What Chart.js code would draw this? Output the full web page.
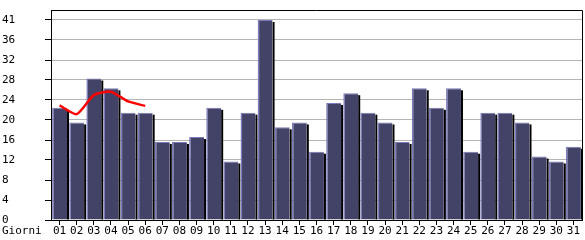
<!DOCTYPE html>
<html>
<head>
<meta charset="utf-8">
<script src="https://cdn.jsdelivr.net/npm/chart.js@4/dist/chart.umd.min.js"></script>
<style>
  body { margin: 0; background: #fff; }
  #wrap { width: 585px; height: 240px; }
</style>
</head>
<body>
<div id="wrap"><canvas id="myChart"></canvas></div>
<script>
var days = ['01','02','03','04','05','06','07','08','09','10','11','12','13','14','15','16','17','18','19','20','21','22','23','24','25','26','27','28','29','30','31'];
var visits = [23,20,29,27,22,22,16,16,17,23,12,22,41,19,20,14,24,26,22,20,16,27,23,27,14,22,22,20,13,12,15];
var trend = [23.5,21.7,25.6,26.3,24.3,23.4];
var yTickValues = [0,4.1,8.2,12.3,16.4,20.5,24.6,28.7,32.8,36.9,41];
var yTickLabels = ['0','4','8','12','16','20','24','28','32','36','41'];
var yMax = 43.05;

var fontSpec = { family: 'DejaVu Sans Mono', size: 11 };

// black shadow on the right of each bar + frame + "Giorni" label
var decor = {
    id: 'decor',
    beforeDatasetsDraw: function(chart) {
        var c = chart.ctx;
        var meta = chart.getDatasetMeta(0);
        c.save();
        c.fillStyle = '#000';
        meta.data.forEach(function(bar) {
            var p = bar.getProps(['x','y','width','base'], true);
            c.fillRect(p.x + p.width / 2, p.y + 2, 2, p.base - p.y - 2);
        });
        c.restore();
    },
    afterDraw: function(chart) {
        var c = chart.ctx, a = chart.chartArea;
        c.save();
        c.strokeStyle = '#000';
        c.lineWidth = 1;
        c.beginPath();
        c.moveTo(a.left, a.top + 0.5);
        c.lineTo(a.right + 0.5, a.top + 0.5);
        c.lineTo(a.right + 0.5, a.bottom);
        c.stroke();
        c.fillStyle = '#000';
        c.font = fontSpec.size + 'px "' + fontSpec.family + '"';
        c.textBaseline = 'middle';
        c.fillText('Giorni', 2, 231);
        c.restore();
    }
};

var ctx = document.getElementById('myChart').getContext('2d');
var myChart = new Chart(ctx, {
    type: 'bar',
    data: {
        labels: days,
        datasets: [{
            label: 'Visite',
            data: visits,
            backgroundColor: '#434368',
            borderColor: '#7a7abc',
            borderWidth: { left: 1.5, top: 1, right: 0, bottom: 0 },
            borderSkipped: false,
            barPercentage: 0.87,
            categoryPercentage: 1,
            order: 2
        }, {
            type: 'line',
            label: 'Media',
            data: trend,
            borderColor: '#ff0000',
            borderWidth: 2.5,
            pointRadius: 0,
            tension: 0.2,
            fill: false,
            order: 1
        }]
    },
    plugins: [decor],
    options: {
        responsive: true,
        maintainAspectRatio: false,
        animation: false,
        layout: { padding: { left: 2, top: 10, right: 3, bottom: 0 } },
        plugins: {
            legend: { display: false },
            tooltip: { enabled: false }
        },
        scales: {
            x: {
                offset: true,
                afterFit: function(s) { s.height = 20; },
                grid: {
                    offset: false,
                    drawOnChartArea: false,
                    tickLength: 5,
                    tickColor: '#000'
                },
                border: { color: '#000' },
                ticks: {
                    color: '#000',
                    font: fontSpec,
                    padding: 0,
                    maxRotation: 0,
                    autoSkip: false
                }
            },
            y: {
                min: 0,
                max: yMax,
                afterFit: function(s) { s.width = 49; },
                afterBuildTicks: function(s) {
                    s.ticks = yTickValues.map(function(v) { return { value: v }; });
                },
                grid: {
                    color: '#b4b4b4',
                    tickColor: '#000',
                    tickLength: 6
                },
                border: { color: '#000' },
                ticks: {
                    color: '#000',
                    font: fontSpec,
                    crossAlign: 'far',
                    callback: function(v, i) { return yTickLabels[i]; }
                }
            }
        }
    }
});
</script>
</body>
</html>
